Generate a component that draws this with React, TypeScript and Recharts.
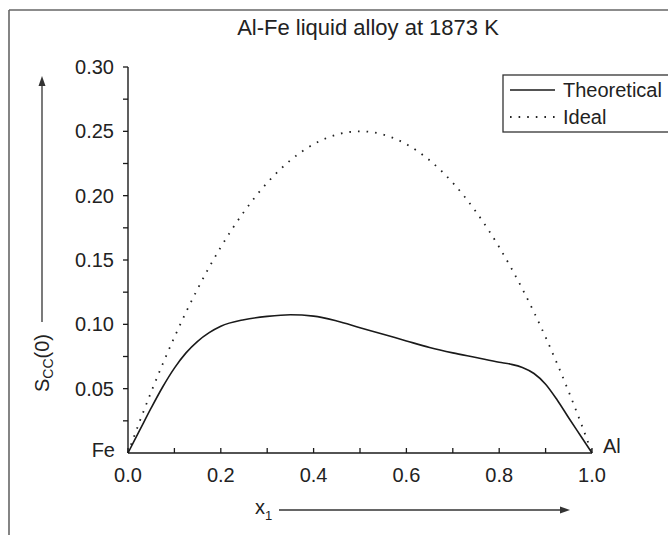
import { LineChart, Line, XAxis, YAxis } from 'recharts';

// mole fraction of Al
const xValues = [0, 0.025, 0.05, 0.075, 0.1, 0.125, 0.15, 0.175, 0.2, 0.25, 0.3, 0.35, 0.4, 0.45, 0.5, 0.55, 0.6, 0.65, 0.7, 0.75, 0.8, 0.825, 0.85, 0.875, 0.9, 0.925, 0.95, 0.975, 1];
const theoretical = [0, 0.0175, 0.035, 0.0515, 0.066, 0.0778, 0.0868, 0.0935, 0.0985, 0.1036, 0.1062, 0.1075, 0.1064, 0.1026, 0.0974, 0.0923, 0.0871, 0.082, 0.0778, 0.0742, 0.0705, 0.069, 0.0665, 0.0618, 0.0535, 0.0412, 0.0272, 0.0136, 0];
const ideal = [0, 0.024375, 0.0475, 0.069375, 0.09, 0.109375, 0.1275, 0.144375, 0.16, 0.1875, 0.21, 0.2275, 0.24, 0.2475, 0.25, 0.2475, 0.24, 0.2275, 0.21, 0.1875, 0.16, 0.144375, 0.1275, 0.109375, 0.09, 0.069375, 0.0475, 0.024375, 0];

const xTicks = [0, 0.1, 0.2, 0.3, 0.4, 0.5, 0.6, 0.7, 0.8, 0.9, 1];
const yTicks = [0.025, 0.05, 0.075, 0.1, 0.125, 0.15, 0.175, 0.2, 0.225, 0.25, 0.275, 0.3];

const data = xValues.map((x, i) => ({ x, theoretical: theoretical[i], ideal: ideal[i] }));

const FONT = '"Liberation Sans", Arial, Helvetica, sans-serif';
const INK = '#1a1a1a';
const DOTS = '1.6 7';

function XTick({ x, y, payload }: any) {
  const v = payload.value;
  const major = Math.round(v * 10) % 2 === 0;
  return (
    <g>
      <line x1={x} x2={x} y1={y} y2={y - 5} stroke={INK} strokeWidth={1.3} />
      {major && (
        <text x={x} y={y + 29} textAnchor="middle" fontSize={20} fill="#222" fontFamily={FONT}>
          {v.toFixed(1)}
        </text>
      )}
    </g>
  );
}

function YTick({ x, y, payload }: any) {
  const v = payload.value;
  const major = Math.round(v * 1000) % 50 === 0;
  return (
    <g>
      <line x1={x} x2={x - 5} y1={y} y2={y} stroke={INK} strokeWidth={1.3} />
      {major && (
        <text x={x - 14} y={y + 7} textAnchor="end" fontSize={20} fill="#222" fontFamily={FONT}>
          {v.toFixed(2)}
        </text>
      )}
    </g>
  );
}

export default function App() {
  return (
    <div style={{ position: 'relative', width: 668, height: 535, overflow: 'hidden', background: '#fff' }}>
      <style>{'body{margin:0}'}</style>
      <LineChart width={668} height={535} data={data} margin={{ top: 67, right: 76, bottom: 0, left: 0 }}>
        <XAxis
          dataKey="x"
          type="number"
          domain={[0, 1]}
          ticks={xTicks}
          interval={0}
          height={82}
          tickSize={0}
          tickMargin={0}
          axisLine={{ stroke: INK, strokeWidth: 1.4 }}
          tick={(p: any) => <XTick {...p} />}
        />
        <YAxis
          type="number"
          domain={[0, 0.3]}
          ticks={yTicks}
          interval={0}
          width={128}
          tickSize={0}
          tickMargin={0}
          axisLine={{ stroke: INK, strokeWidth: 1.4 }}
          tick={(p: any) => <YTick {...p} />}
        />
        <Line type="monotone" dataKey="ideal" stroke="#222" strokeWidth={1.8} strokeDasharray={DOTS} dot={false} isAnimationActive={false} />
        <Line type="monotone" dataKey="theoretical" stroke={INK} strokeWidth={1.6} dot={false} isAnimationActive={false} />
      </LineChart>

      {/* frame, title, axis captions and legend */}
      <svg width={668} height={535} style={{ position: 'absolute', left: 0, top: 0, pointerEvents: 'none' }} fontFamily={FONT}>
        <line x1={9} y1={10} x2={9} y2={535} stroke="#666" strokeWidth={1.6} />
        <line x1={9} y1={10} x2={668} y2={10} stroke="#666" strokeWidth={1.6} />

        <text x={368} y={35} textAnchor="middle" fontSize={22} fill="#222">Al-Fe liquid alloy at 1873 K</text>

        <text x={115} y={457} textAnchor="end" fontSize={20} fill="#222">Fe</text>
        <text x={603} y={453} fontSize={20} fill="#222">Al</text>

        <text x={255} y={514} fontSize={20} fill="#222">
          x<tspan fontSize={13} dy={6}>1</tspan>
        </text>
        <line x1={279} y1={510} x2={562} y2={510} stroke="#333" strokeWidth={1.3} />
        <polygon points="570,510 560,506.5 560,513.5" fill="#333" />

        <text x={49} y={363} textAnchor="middle" fontSize={20} fill="#222" transform="rotate(-90, 49, 363)">
          S<tspan fontSize={14} dy={4}>CC</tspan><tspan dy={-4}>(0)</tspan>
        </text>
        <line x1={42} y1={322} x2={42} y2={84} stroke="#333" strokeWidth={1.3} />
        <polygon points="42,76 38.5,86 45.5,86" fill="#333" />

        <rect x={503} y={75} width={200} height={57} fill="#fff" stroke="#333" strokeWidth={1.3} />
        <line x1={510} y1={90} x2={555} y2={90} stroke={INK} strokeWidth={1.6} />
        <text x={563} y={97} fontSize={20} fill="#222">Theoretical</text>
        <line x1={510} y1={117} x2={555} y2={117} stroke="#222" strokeWidth={1.8} strokeDasharray={DOTS} />
        <text x={563} y={124} fontSize={20} fill="#222">Ideal</text>
      </svg>
    </div>
  );
}
